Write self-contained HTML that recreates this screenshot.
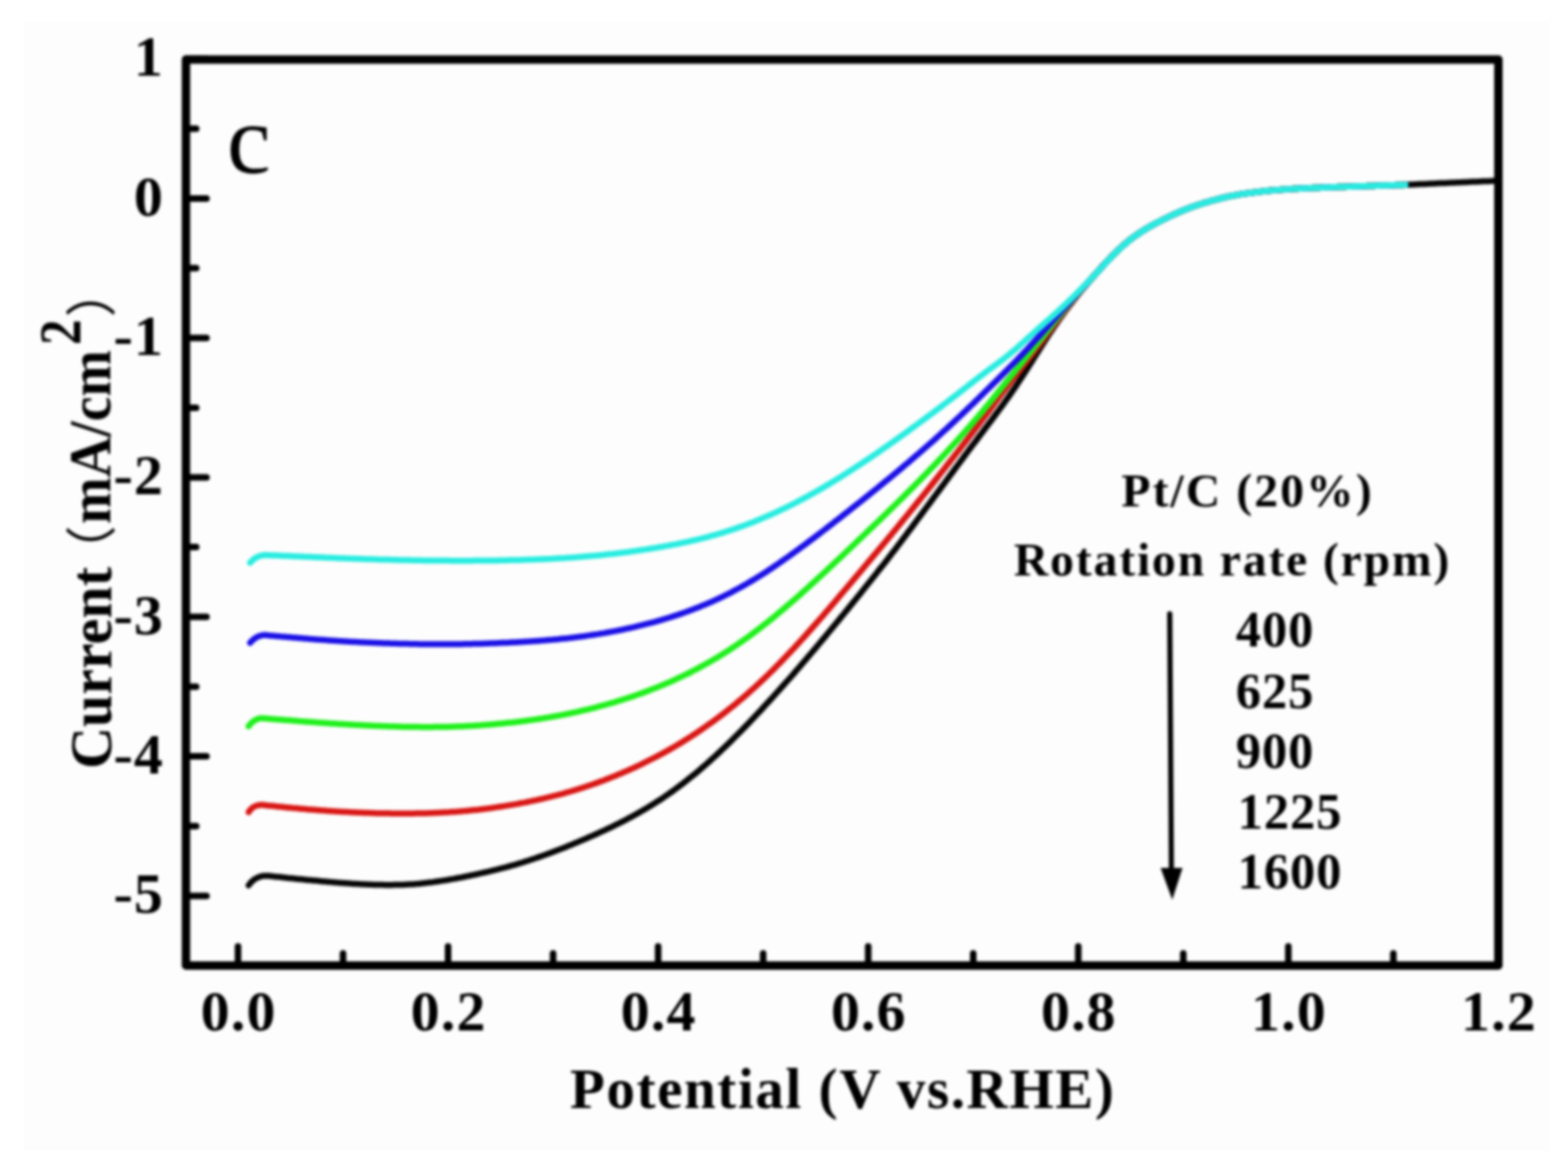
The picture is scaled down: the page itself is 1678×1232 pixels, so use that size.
<!DOCTYPE html>
<html><head><meta charset="utf-8"><title>Pt/C rotation rate LSV</title>
<style>html,body{margin:0;padding:0;background:#fff;width:1678px;height:1232px;overflow:hidden;}.bg{position:absolute;left:25px;top:23px;width:1633px;height:1209px;background:#fdfdfd;}svg{position:absolute;left:0;top:0;display:block;filter:blur(1.6px);}</style>
</head><body>
<div class="bg"></div>
<svg width="1678" height="1232" viewBox="0 0 1678 1232"><path d="M266.1 947.6L267.4 945.9 268.7 944.3 270.2 942.9 271.8 941.6 273.6 940.5 275.4 939.5 277.4 938.7 279.5 938.0 281.6 937.6 283.6 937.4 285.7 937.4 287.7 937.6 289.7 937.8 291.7 938.0 293.7 938.2 295.7 938.4 297.7 938.6 299.7 938.8 301.7 939.0 303.7 939.2 305.7 939.4 307.7 939.7 309.7 939.9 311.7 940.1 313.7 940.3 315.7 940.5 317.7 940.7 319.7 940.9 321.7 941.1 323.7 941.3 325.7 941.5 327.7 941.7 329.7 941.9 331.7 942.0 333.7 942.2 335.7 942.4 337.8 942.6 339.8 942.8 341.8 943.0 343.8 943.2 345.8 943.4 347.8 943.5 349.8 943.7 351.8 943.9 353.8 944.1 355.8 944.2 357.8 944.4 359.8 944.6 361.8 944.7 363.8 944.9 365.8 945.0 367.8 945.2 369.8 945.3 371.8 945.5 373.8 945.6 375.8 945.7 377.8 945.9 379.8 946.0 381.8 946.1 383.8 946.2 385.8 946.3 387.8 946.4 389.8 946.5 391.8 946.6 393.8 946.7 395.8 946.8 397.8 946.8 399.8 946.9 401.8 947.0 403.8 947.0 405.8 947.1 407.8 947.1 409.8 947.1 411.8 947.2 413.8 947.2 415.8 947.2 417.8 947.2 419.8 947.2 421.8 947.1 423.8 947.1 425.8 947.1 427.8 947.0 429.8 947.0 431.8 946.9 433.8 946.8 435.8 946.7 437.9 946.6 439.9 946.5 441.9 946.4 443.9 946.2 445.9 946.1 447.9 945.9 449.9 945.7 451.9 945.5 453.9 945.3 455.9 945.1 457.9 944.8 459.9 944.6 461.9 944.4 463.9 944.1 465.9 943.8 467.9 943.5 469.9 943.2 471.9 942.9 473.9 942.6 475.9 942.3 477.9 942.0 479.9 941.6 481.9 941.3 483.9 940.9 485.9 940.6 487.9 940.2 489.9 939.8 491.9 939.5 493.9 939.1 495.9 938.7 497.9 938.3 499.9 937.9 501.9 937.5 503.9 937.0 505.9 936.6 507.9 936.2 509.9 935.8 511.9 935.3 513.9 934.9 515.9 934.4 517.9 934.0 519.9 933.5 521.9 933.1 523.9 932.6 525.9 932.1 527.9 931.6 529.9 931.1 531.9 930.7 533.9 930.2 535.9 929.6 537.9 929.1 540.0 928.6 542.0 928.1 544.0 927.5 546.0 927.0 548.0 926.4 550.0 925.8 552.0 925.3 554.0 924.7 556.0 924.1 558.0 923.5 560.0 922.9 562.0 922.2 564.0 921.6 566.0 921.0 568.0 920.3 570.0 919.6 572.0 919.0 574.0 918.3 576.0 917.6 578.0 916.9 580.0 916.2 582.0 915.5 584.0 914.8 586.0 914.1 588.0 913.3 590.0 912.6 592.0 911.8 594.0 911.1 596.0 910.3 598.0 909.5 600.0 908.8 602.0 908.0 604.0 907.2 606.0 906.4 608.0 905.6 610.0 904.8 612.0 904.0 614.0 903.1 616.0 902.3 618.0 901.5 620.0 900.6 622.0 899.8 624.0 898.9 626.0 898.1 628.0 897.2 630.0 896.3 632.0 895.4 634.0 894.6 636.0 893.7 638.0 892.8 640.1 891.9 642.1 890.9 644.1 890.0 646.1 889.1 648.1 888.2 650.1 887.2 652.1 886.3 654.1 885.3 656.1 884.3 658.1 883.3 660.1 882.4 662.1 881.4 664.1 880.4 666.1 879.3 668.1 878.3 670.1 877.3 672.1 876.2 674.1 875.2 676.1 874.1 678.1 873.0 680.1 871.9 682.1 870.8 684.1 869.6 686.1 868.5 688.1 867.3 690.1 866.2 692.1 865.0 694.1 863.8 696.1 862.6 698.1 861.3 700.1 860.1 702.1 858.8 704.1 857.5 706.1 856.2 708.1 854.9 710.1 853.6 712.1 852.2 714.1 850.8 716.1 849.4 718.1 848.0 720.1 846.6 722.1 845.1 724.1 843.7 726.1 842.2 728.1 840.7 730.1 839.1 732.1 837.6 734.1 836.0 736.1 834.4 738.1 832.8 740.1 831.2 742.2 829.6 744.2 827.9 746.2 826.2 748.2 824.6 750.2 822.8 752.2 821.1 754.2 819.4 756.2 817.6 758.2 815.8 760.2 814.0 762.2 812.2 764.2 810.4 766.2 808.6 768.2 806.7 770.2 804.8 772.2 802.9 774.2 801.0 776.2 799.1 778.2 797.2 780.2 795.2 782.2 793.3 784.2 791.3 786.2 789.3 788.2 787.3 790.2 785.3 792.2 783.2 794.2 781.2 796.2 779.1 798.2 777.1 800.2 775.0 802.2 772.9 804.2 770.8 806.2 768.7 808.2 766.6 810.2 764.4 812.2 762.3 814.2 760.2 816.2 758.0 818.2 755.8 820.2 753.6 822.2 751.5 824.2 749.3 826.2 747.1 828.2 744.8 830.2 742.6 832.2 740.4 834.2 738.2 836.2 735.9 838.2 733.7 840.2 731.4 842.3 729.1 844.3 726.9 846.3 724.6 848.3 722.3 850.3 720.0 852.3 717.7 854.3 715.4 856.3 713.1 858.3 710.7 860.3 708.4 862.3 706.1 864.3 703.7 866.3 701.4 868.3 699.0 870.3 696.6 872.3 694.3 874.3 691.9 876.3 689.5 878.3 687.1 880.3 684.7 882.3 682.3 884.3 679.9 886.3 677.5 888.3 675.0 890.3 672.6 892.3 670.2 894.3 667.7 896.3 665.3 898.3 662.9 900.3 660.4 902.3 658.0 904.3 655.5 906.3 653.1 908.3 650.6 910.3 648.1 912.3 645.7 914.3 643.2 916.3 640.7 918.3 638.2 920.3 635.8 922.3 633.3 924.3 630.8 926.3 628.3 928.3 625.8 930.3 623.3 932.3 620.8 934.3 618.2 936.3 615.7 938.3 613.2 940.3 610.6 942.3 608.1 944.4 605.5 946.4 603.0 948.4 600.4 950.4 597.8 952.4 595.2 954.4 592.6 956.4 590.0 958.4 587.4 960.4 584.8 962.4 582.1 964.4 579.5 966.4 576.8 968.4 574.2 970.4 571.5 972.4 568.8 974.4 566.2 976.4 563.5 978.4 560.8 980.4 558.1 982.4 555.4 984.4 552.7 986.4 550.0 988.4 547.3 990.4 544.6 992.4 541.9 994.4 539.2 996.4 536.5 998.4 533.8 1000.4 531.1 1002.4 528.4 1004.4 525.7 1006.4 523.0 1008.4 520.3 1010.4 517.6 1012.4 514.9 1014.4 512.2 1016.4 509.4 1018.4 506.7 1020.4 504.0 1022.4 501.3 1024.4 498.6 1026.4 495.9 1028.4 493.2 1030.4 490.5 1032.4 487.8 1034.4 485.1 1036.4 482.4 1038.4 479.7 1040.4 477.1 1042.4 474.4 1044.5 471.7 1046.5 469.0 1048.5 466.3 1050.5 463.7 1052.5 461.0 1054.5 458.3 1056.5 455.7 1058.5 453.0 1060.5 450.4 1062.5 447.7 1064.5 445.0 1066.5 442.3 1068.5 439.6 1070.5 436.9 1072.5 434.2 1074.5 431.4 1076.5 428.6 1078.5 425.8 1080.5 423.0 1082.5 420.1 1084.5 417.2 1086.5 414.3 1088.5 411.3 1090.5 408.3 1092.5 405.3 1094.5 402.2 1096.5 399.1 1098.5 396.0 1100.5 392.8 1102.5 389.7 1104.5 386.5 1106.5 383.3 1108.5 380.0 1110.5 376.9 1112.5 373.7 1114.5 370.5 1116.5 367.4 1118.5 364.2 1120.5 361.2 1122.5 358.1 1124.5 355.1 1126.5 352.1 1128.5 349.2 1130.5 346.3 1132.5 343.4 1134.5 340.6 1136.5 337.8 1138.5 335.1 1140.5 332.4 1142.5 329.7 1144.6 327.0 1146.6 324.4 1148.6 321.8 1150.6 319.3 1152.6 316.8 1154.6 314.3 1156.6 311.8 1158.6 309.4 1160.6 307.0 1162.6 304.7 1164.6 302.3 1166.6 300.0 1168.6 297.7 1170.6 295.4 1172.6 293.2 1174.6 290.9 1176.6 288.7 1178.6 286.4 1180.6 284.2 1182.6 282.0 1184.6 279.9 1186.6 277.7 1188.6 275.6 1190.6 273.6 1192.6 271.5 1194.6 269.6 1196.6 267.6 1198.6 265.7 1200.6 263.9 1202.6 262.1 1204.6 260.4 1206.6 258.8 1208.6 257.2 1210.6 255.6 1212.6 254.1 1214.6 252.6 1216.6 251.2 1218.6 249.9 1220.6 248.5 1222.6 247.3 1224.6 246.0 1226.6 244.8 1228.6 243.6 1230.6 242.5 1232.6 241.4 1234.6 240.3 1236.6 239.2 1238.6 238.1 1240.6 237.1 1242.6 236.1 1244.6 235.1 1246.7 234.1 1248.7 233.1 1250.7 232.1 1252.7 231.2 1254.7 230.2 1256.7 229.3 1258.7 228.4 1260.7 227.6 1262.7 226.7 1264.7 225.8 1266.7 225.0 1268.7 224.2 1270.7 223.4 1272.7 222.7 1274.7 221.9 1276.7 221.2 1278.7 220.5 1280.7 219.8 1282.7 219.1 1284.7 218.5 1286.7 217.9 1288.7 217.2 1290.7 216.6 1292.7 216.1 1294.7 215.5 1296.7 214.9 1298.7 214.4 1300.7 213.8 1302.7 213.3 1304.7 212.8 1306.7 212.2 1308.7 211.7 1310.7 211.3 1312.7 210.8 1314.7 210.4 1316.7 209.9 1318.7 209.5 1320.7 209.2 1322.7 208.8 1324.7 208.4 1326.7 208.1 1328.7 207.8 1330.7 207.5 1332.7 207.2 1334.7 206.9 1336.7 206.6 1338.7 206.3 1340.7 206.1 1342.7 205.8 1344.7 205.6 1346.8 205.3 1348.8 205.1 1350.8 204.9 1352.8 204.6 1354.8 204.4 1356.8 204.2 1358.8 204.0 1360.8 203.8 1362.8 203.7 1364.8 203.5 1366.8 203.3 1368.8 203.2 1370.8 203.0 1372.8 202.9 1374.8 202.7 1376.8 202.6 1378.8 202.4 1380.8 202.3 1382.8 202.2 1384.8 202.1 1386.8 202.0 1388.8 201.9 1390.8 201.8 1392.8 201.7 1394.8 201.6 1396.8 201.5 1398.8 201.4 1400.8 201.3 1402.8 201.2 1404.8 201.1 1406.8 201.1 1408.8 201.0 1410.8 200.9 1412.8 200.8 1414.8 200.7 1416.8 200.7 1418.8 200.6 1420.8 200.5 1422.8 200.4 1424.8 200.4 1426.8 200.3 1428.8 200.2 1430.8 200.2 1432.8 200.1 1434.8 200.0 1436.8 200.0 1438.8 199.9 1440.8 199.8 1442.8 199.8 1444.8 199.7 1446.8 199.6 1448.9 199.6 1450.9 199.5 1452.9 199.4 1454.9 199.4 1456.9 199.3 1458.9 199.3 1460.9 199.2 1462.9 199.1 1464.9 199.1 1466.9 199.0 1468.9 198.9 1470.9 198.9 1472.9 198.8 1474.9 198.8 1476.9 198.7 1478.9 198.6 1480.9 198.6 1482.9 198.5 1484.9 198.4 1486.9 198.4 1488.9 198.3 1490.9 198.3 1492.9 198.2 1494.9 198.1 1496.9 198.0 1498.9 198.0 1500.9 197.9 1502.9 197.8 1504.9 197.7 1506.9 197.7 1508.9 197.6 1510.9 197.5 1512.9 197.4 1514.9 197.3 1516.9 197.2 1518.9 197.1 1520.9 197.0 1522.9 196.9 1524.9 196.9 1526.9 196.8 1528.9 196.7 1530.9 196.6 1532.9 196.5 1534.9 196.4 1536.9 196.3 1538.9 196.2 1540.9 196.1 1542.9 196.0 1544.9 196.0 1546.9 195.9 1549.0 195.8 1551.0 195.7 1553.0 195.6 1555.0 195.5 1557.0 195.4 1559.0 195.3 1561.0 195.3 1563.0 195.2 1565.0 195.1 1567.0 195.0 1569.0 194.9 1571.0 194.8 1573.0 194.7 1575.0 194.6 1577.0 194.6 1579.0 194.5 1581.0 194.4 1583.0 194.3 1585.0 194.2 1587.0 194.1 1589.0 194.0 1591.0 193.9 1593.0 193.9 1595.0 193.8 1597.0 193.7 1599.0 193.6" fill="none" stroke="#050505" stroke-width="6.5" stroke-linejoin="round" stroke-linecap="round"/>
<path d="M266.1 869.3L267.0 867.9 268.0 866.7 269.1 865.6 270.3 864.6 271.6 863.7 272.9 863.0 274.4 862.5 275.9 862.0 277.5 861.7 279.0 861.6 280.6 861.6 282.6 861.8 284.6 862.0 286.6 862.2 288.6 862.4 290.6 862.6 292.6 862.8 294.6 863.0 296.6 863.2 298.6 863.4 300.6 863.6 302.6 863.8 304.6 864.0 306.6 864.2 308.6 864.4 310.6 864.6 312.6 864.8 314.6 864.9 316.6 865.1 318.6 865.3 320.6 865.5 322.6 865.7 324.7 865.8 326.7 866.0 328.7 866.2 330.7 866.4 332.7 866.5 334.7 866.7 336.7 866.8 338.7 867.0 340.7 867.2 342.7 867.3 344.7 867.5 346.7 867.6 348.7 867.7 350.7 867.9 352.7 868.0 354.7 868.2 356.7 868.3 358.7 868.4 360.7 868.5 362.7 868.7 364.7 868.8 366.7 868.9 368.7 869.0 370.7 869.1 372.7 869.2 374.7 869.3 376.7 869.4 378.7 869.5 380.7 869.6 382.7 869.7 384.7 869.8 386.7 869.8 388.7 869.9 390.7 870.0 392.7 870.1 394.7 870.1 396.7 870.2 398.7 870.2 400.7 870.3 402.7 870.4 404.7 870.4 406.7 870.4 408.7 870.5 410.7 870.5 412.8 870.6 414.8 870.6 416.8 870.6 418.8 870.7 420.8 870.7 422.8 870.7 424.8 870.7 426.8 870.7 428.8 870.7 430.8 870.7 432.8 870.7 434.8 870.7 436.8 870.7 438.8 870.7 440.8 870.7 442.8 870.7 444.8 870.6 446.8 870.6 448.8 870.6 450.8 870.5 452.8 870.5 454.8 870.4 456.8 870.4 458.8 870.3 460.8 870.2 462.8 870.2 464.8 870.1 466.8 870.0 468.8 869.9 470.8 869.8 472.8 869.7 474.8 869.6 476.8 869.5 478.8 869.4 480.8 869.3 482.8 869.1 484.8 869.0 486.8 868.9 488.8 868.7 490.8 868.6 492.8 868.4 494.8 868.2 496.8 868.1 498.8 867.9 500.9 867.7 502.9 867.5 504.9 867.3 506.9 867.1 508.9 866.9 510.9 866.7 512.9 866.5 514.9 866.2 516.9 866.0 518.9 865.7 520.9 865.5 522.9 865.2 524.9 865.0 526.9 864.7 528.9 864.4 530.9 864.1 532.9 863.8 534.9 863.5 536.9 863.2 538.9 862.9 540.9 862.6 542.9 862.3 544.9 861.9 546.9 861.6 548.9 861.3 550.9 860.9 552.9 860.6 554.9 860.2 556.9 859.8 558.9 859.4 560.9 859.1 562.9 858.7 564.9 858.3 566.9 857.9 568.9 857.4 570.9 857.0 572.9 856.6 574.9 856.2 576.9 855.7 578.9 855.3 580.9 854.8 582.9 854.3 584.9 853.9 587.0 853.4 589.0 852.9 591.0 852.4 593.0 851.9 595.0 851.4 597.0 850.9 599.0 850.3 601.0 849.8 603.0 849.3 605.0 848.7 607.0 848.1 609.0 847.6 611.0 847.0 613.0 846.4 615.0 845.8 617.0 845.2 619.0 844.6 621.0 843.9 623.0 843.3 625.0 842.7 627.0 842.0 629.0 841.3 631.0 840.7 633.0 840.0 635.0 839.3 637.0 838.6 639.0 837.9 641.0 837.1 643.0 836.4 645.0 835.7 647.0 834.9 649.0 834.1 651.0 833.4 653.0 832.6 655.0 831.8 657.0 831.0 659.0 830.2 661.0 829.3 663.0 828.5 665.0 827.7 667.0 826.8 669.0 825.9 671.0 825.1 673.0 824.2 675.1 823.3 677.1 822.4 679.1 821.5 681.1 820.5 683.1 819.6 685.1 818.6 687.1 817.7 689.1 816.7 691.1 815.7 693.1 814.7 695.1 813.7 697.1 812.7 699.1 811.7 701.1 810.7 703.1 809.6 705.1 808.5 707.1 807.5 709.1 806.4 711.1 805.3 713.1 804.2 715.1 803.1 717.1 801.9 719.1 800.8 721.1 799.6 723.1 798.5 725.1 797.3 727.1 796.1 729.1 794.9 731.1 793.6 733.1 792.4 735.1 791.1 737.1 789.9 739.1 788.6 741.1 787.3 743.1 786.0 745.1 784.7 747.1 783.3 749.1 782.0 751.1 780.6 753.1 779.2 755.1 777.8 757.1 776.4 759.1 775.0 761.1 773.6 763.2 772.1 765.2 770.6 767.2 769.2 769.2 767.7 771.2 766.1 773.2 764.6 775.2 763.1 777.2 761.5 779.2 759.9 781.2 758.3 783.2 756.7 785.2 755.1 787.2 753.5 789.2 751.8 791.2 750.1 793.2 748.4 795.2 746.7 797.2 745.0 799.2 743.3 801.2 741.5 803.2 739.7 805.2 737.9 807.2 736.1 809.2 734.3 811.2 732.4 813.2 730.6 815.2 728.7 817.2 726.8 819.2 724.9 821.2 723.0 823.2 721.0 825.2 719.0 827.2 717.1 829.2 715.1 831.2 713.0 833.2 711.0 835.2 708.9 837.2 706.9 839.2 704.8 841.2 702.7 843.2 700.6 845.2 698.5 847.2 696.3 849.3 694.2 851.3 692.0 853.3 689.8 855.3 687.6 857.3 685.4 859.3 683.2 861.3 681.0 863.3 678.8 865.3 676.5 867.3 674.3 869.3 672.0 871.3 669.7 873.3 667.5 875.3 665.2 877.3 662.9 879.3 660.6 881.3 658.3 883.3 655.9 885.3 653.6 887.3 651.3 889.3 649.0 891.3 646.6 893.3 644.3 895.3 641.9 897.3 639.6 899.3 637.2 901.3 634.9 903.3 632.5 905.3 630.2 907.3 627.8 909.3 625.4 911.3 623.1 913.3 620.7 915.3 618.3 917.3 615.9 919.3 613.6 921.3 611.2 923.3 608.8 925.3 606.4 927.3 604.0 929.3 601.6 931.3 599.2 933.3 596.8 935.3 594.4 937.4 592.0 939.4 589.6 941.4 587.2 943.4 584.8 945.4 582.4 947.4 580.0 949.4 577.6 951.4 575.2 953.4 572.8 955.4 570.3 957.4 567.9 959.4 565.5 961.4 563.0 963.4 560.6 965.4 558.1 967.4 555.7 969.4 553.2 971.4 550.8 973.4 548.3 975.4 545.9 977.4 543.4 979.4 540.9 981.4 538.4 983.4 535.9 985.4 533.5 987.4 531.0 989.4 528.5 991.4 526.0 993.4 523.5 995.4 520.9 997.4 518.4 999.4 515.9 1001.4 513.4 1003.4 510.9 1005.4 508.3 1007.4 505.8 1009.4 503.2 1011.4 500.7 1013.4 498.1 1015.4 495.6 1017.4 493.0 1019.4 490.5 1021.4 487.9 1023.5 485.3 1025.5 482.8 1027.5 480.2 1029.5 477.6 1031.5 475.0 1033.5 472.4 1035.5 469.8 1037.5 467.2 1039.5 464.7 1041.5 462.1 1043.5 459.4 1045.5 456.8 1047.5 454.2 1049.5 451.6 1051.5 449.0 1053.5 446.3 1055.5 443.7 1057.5 441.0 1059.5 438.3 1061.5 435.7 1063.5 433.0 1065.5 430.3 1067.5 427.6 1069.5 424.9 1071.5 422.2 1073.5 419.5 1075.5 416.9 1077.5 414.2 1079.5 411.5 1081.5 408.9 1083.5 406.3 1085.5 403.7 1087.5 401.1 1089.5 398.5 1091.5 395.9 1093.5 393.4 1095.5 390.8 1097.5 388.3 1099.5 385.7 1101.5 383.1 1103.5 380.5 1105.5 377.9 1107.5 375.3 1109.5 372.6 1111.6 369.9 1113.6 367.2 1115.6 364.5 1117.6 361.8 1119.6 359.1 1121.6 356.4 1123.6 353.7 1125.6 351.0 1127.6 348.3 1129.6 345.7 1131.6 343.0 1133.6 340.4 1135.6 337.8 1137.6 335.1 1139.6 332.6 1141.6 330.0 1143.6 327.4 1145.6 324.9 1147.6 322.4 1149.6 319.9 1151.6 317.4 1153.6 315.0 1155.6 312.6 1157.6 310.2 1159.6 307.9 1161.6 305.5 1163.6 303.2 1165.6 300.9 1167.6 298.7 1169.6 296.4 1171.6 294.2 1173.6 291.9 1175.6 289.7 1177.6 287.5 1179.6 285.3 1181.6 283.1 1183.6 280.9 1185.6 278.8 1187.6 276.7 1189.6 274.6 1191.6 272.5 1193.6 270.5 1195.6 268.6 1197.6 266.7 1199.7 264.8 1201.7 263.0 1203.7 261.3 1205.7 259.6 1207.7 257.9 1209.7 256.4 1211.7 254.8 1213.7 253.3 1215.7 251.9 1217.7 250.5 1219.7 249.2 1221.7 247.9 1223.7 246.6 1225.7 245.4 1227.7 244.2 1229.7 243.0 1231.7 241.9 1233.7 240.8 1235.7 239.7 1237.7 238.6 1239.7 237.6 1241.7 236.5 1243.7 235.5 1245.7 234.5 1247.7 233.5 1249.7 232.6 1251.7 231.6 1253.7 230.7 1255.7 229.8 1257.7 228.9 1259.7 228.0 1261.7 227.1 1263.7 226.2 1265.7 225.4 1267.7 224.6 1269.7 223.8 1271.7 223.0 1273.7 222.3 1275.7 221.5 1277.7 220.8 1279.7 220.1 1281.7 219.4 1283.7 218.8 1285.8 218.2 1287.8 217.5 1289.8 216.9 1291.8 216.3 1293.8 215.8 1295.8 215.2 1297.8 214.6 1299.8 214.1 1301.8 213.5 1303.8 213.0 1305.8 212.5 1307.8 212.0 1309.8 211.5 1311.8 211.0 1313.8 210.6 1315.8 210.1 1317.8 209.7 1319.8 209.3 1321.8 209.0 1323.8 208.6 1325.8 208.3 1327.8 207.9 1329.8 207.6 1331.8 207.3 1333.8 207.0 1335.8 206.7 1337.8 206.4 1339.8 206.2 1341.8 205.9 1343.8 205.7 1345.8 205.4 1347.8 205.2 1349.8 205.0 1351.8 204.7 1353.8 204.5 1355.8 204.3 1357.8 204.1 1359.8 203.9 1361.8 203.7 1363.8 203.6 1365.8 203.4 1367.8 203.2 1369.8 203.1 1371.8 202.9 1373.9 202.8 1375.9 202.6 1377.9 202.5 1379.9 202.4 1381.9 202.3 1383.9 202.1 1385.9 202.0 1387.9 201.9 1389.9 201.8 1391.9 201.7 1393.9 201.6 1395.9 201.5 1397.9 201.4 1399.9 201.4 1401.9 201.3 1403.9 201.2 1405.9 201.1 1407.9 201.0 1409.9 200.9 1411.9 200.9 1413.9 200.8 1415.9 200.7 1417.9 200.6 1419.9 200.6 1421.9 200.5 1423.9 200.4 1425.9 200.3 1427.9 200.3 1429.9 200.2 1431.9 200.1 1433.9 200.1 1435.9 200.0 1437.9 199.9 1439.9 199.9 1441.9 199.8 1443.9 199.7 1445.9 199.7 1447.9 199.6 1449.9 199.5 1451.9 199.5 1453.9 199.4 1455.9 199.3 1457.9 199.3 1459.9 199.2 1462.0 199.2 1464.0 199.1 1466.0 199.0 1468.0 199.0 1470.0 198.9 1472.0 198.8 1474.0 198.8 1476.0 198.7 1478.0 198.6 1480.0 198.6 1482.0 198.5 1484.0 198.4 1486.0 198.4 1488.0 198.3 1490.0 198.3 1492.0 198.2 1494.0 198.1 1496.0 198.1 1498.0 198.0 1500.0 197.9 1502.0 197.9 1504.0 197.8" fill="none" stroke="#d81614" stroke-width="6.5" stroke-linejoin="round" stroke-linecap="round"/>
<path d="M266.1 777.3L267.1 776.0 268.1 774.8 269.2 773.7 270.4 772.6 271.7 771.7 273.0 770.9 274.4 770.2 275.9 769.5 277.5 769.0 279.0 768.8 280.6 768.7 282.6 768.9 284.6 769.0 286.6 769.2 288.6 769.4 290.6 769.5 292.6 769.7 294.6 769.9 296.6 770.0 298.6 770.2 300.6 770.3 302.6 770.5 304.6 770.7 306.6 770.8 308.6 771.0 310.6 771.1 312.6 771.3 314.6 771.5 316.6 771.6 318.6 771.8 320.6 771.9 322.6 772.1 324.7 772.2 326.7 772.4 328.7 772.5 330.7 772.7 332.7 772.8 334.7 773.0 336.7 773.1 338.7 773.3 340.7 773.4 342.7 773.5 344.7 773.7 346.7 773.8 348.7 774.0 350.7 774.1 352.7 774.2 354.7 774.4 356.7 774.5 358.7 774.6 360.7 774.7 362.7 774.9 364.7 775.0 366.7 775.1 368.7 775.2 370.7 775.3 372.7 775.5 374.7 775.6 376.7 775.7 378.7 775.8 380.7 775.9 382.7 776.0 384.7 776.1 386.7 776.2 388.7 776.3 390.7 776.4 392.7 776.5 394.7 776.6 396.7 776.7 398.7 776.8 400.7 776.9 402.7 776.9 404.7 777.0 406.7 777.1 408.7 777.2 410.7 777.2 412.8 777.3 414.8 777.4 416.8 777.5 418.8 777.5 420.8 777.6 422.8 777.6 424.8 777.7 426.8 777.8 428.8 777.8 430.8 777.9 432.8 777.9 434.8 777.9 436.8 778.0 438.8 778.0 440.8 778.0 442.8 778.1 444.8 778.1 446.8 778.1 448.8 778.1 450.8 778.2 452.8 778.2 454.8 778.2 456.8 778.2 458.8 778.2 460.8 778.2 462.8 778.2 464.8 778.1 466.8 778.1 468.8 778.1 470.8 778.1 472.8 778.0 474.8 778.0 476.8 778.0 478.8 777.9 480.8 777.9 482.8 777.8 484.8 777.8 486.8 777.7 488.8 777.6 490.8 777.5 492.8 777.5 494.8 777.4 496.8 777.3 498.8 777.2 500.9 777.1 502.9 777.0 504.9 776.9 506.9 776.8 508.9 776.7 510.9 776.5 512.9 776.4 514.9 776.3 516.9 776.1 518.9 776.0 520.9 775.8 522.9 775.7 524.9 775.5 526.9 775.3 528.9 775.2 530.9 775.0 532.9 774.8 534.9 774.6 536.9 774.4 538.9 774.2 540.9 774.0 542.9 773.8 544.9 773.6 546.9 773.4 548.9 773.2 550.9 772.9 552.9 772.7 554.9 772.5 556.9 772.2 558.9 772.0 560.9 771.7 562.9 771.5 564.9 771.2 566.9 770.9 568.9 770.6 570.9 770.4 572.9 770.1 574.9 769.8 576.9 769.5 578.9 769.2 580.9 768.9 582.9 768.5 584.9 768.2 587.0 767.9 589.0 767.5 591.0 767.2 593.0 766.8 595.0 766.5 597.0 766.1 599.0 765.7 601.0 765.4 603.0 765.0 605.0 764.6 607.0 764.2 609.0 763.8 611.0 763.4 613.0 762.9 615.0 762.5 617.0 762.1 619.0 761.6 621.0 761.2 623.0 760.7 625.0 760.2 627.0 759.8 629.0 759.3 631.0 758.8 633.0 758.3 635.0 757.8 637.0 757.3 639.0 756.8 641.0 756.2 643.0 755.7 645.0 755.2 647.0 754.6 649.0 754.1 651.0 753.5 653.0 752.9 655.0 752.3 657.0 751.8 659.0 751.2 661.0 750.5 663.0 749.9 665.0 749.3 667.0 748.7 669.0 748.0 671.0 747.4 673.0 746.7 675.1 746.1 677.1 745.4 679.1 744.7 681.1 744.0 683.1 743.3 685.1 742.6 687.1 741.9 689.1 741.1 691.1 740.4 693.1 739.6 695.1 738.9 697.1 738.1 699.1 737.3 701.1 736.5 703.1 735.7 705.1 734.9 707.1 734.1 709.1 733.3 711.1 732.4 713.1 731.6 715.1 730.7 717.1 729.9 719.1 729.0 721.1 728.1 723.1 727.2 725.1 726.2 727.1 725.3 729.1 724.4 731.1 723.4 733.1 722.4 735.1 721.5 737.1 720.5 739.1 719.5 741.1 718.4 743.1 717.4 745.1 716.4 747.1 715.3 749.1 714.2 751.1 713.1 753.1 712.0 755.1 710.9 757.1 709.8 759.1 708.7 761.1 707.5 763.2 706.3 765.2 705.2 767.2 704.0 769.2 702.7 771.2 701.5 773.2 700.3 775.2 699.0 777.2 697.7 779.2 696.5 781.2 695.2 783.2 693.8 785.2 692.5 787.2 691.2 789.2 689.8 791.2 688.4 793.2 687.0 795.2 685.6 797.2 684.2 799.2 682.8 801.2 681.3 803.2 679.9 805.2 678.4 807.2 676.9 809.2 675.4 811.2 673.9 813.2 672.3 815.2 670.8 817.2 669.2 819.2 667.7 821.2 666.1 823.2 664.5 825.2 662.9 827.2 661.2 829.2 659.6 831.2 657.9 833.2 656.3 835.2 654.6 837.2 652.9 839.2 651.2 841.2 649.5 843.2 647.8 845.2 646.1 847.2 644.3 849.3 642.6 851.3 640.8 853.3 639.1 855.3 637.3 857.3 635.5 859.3 633.7 861.3 631.9 863.3 630.1 865.3 628.3 867.3 626.5 869.3 624.7 871.3 622.8 873.3 621.0 875.3 619.2 877.3 617.3 879.3 615.5 881.3 613.6 883.3 611.8 885.3 609.9 887.3 608.0 889.3 606.2 891.3 604.3 893.3 602.4 895.3 600.5 897.3 598.6 899.3 596.8 901.3 594.9 903.3 593.0 905.3 591.1 907.3 589.2 909.3 587.3 911.3 585.4 913.3 583.5 915.3 581.5 917.3 579.6 919.3 577.7 921.3 575.8 923.3 573.9 925.3 572.0 927.3 570.1 929.3 568.1 931.3 566.2 933.3 564.3 935.3 562.4 937.4 560.4 939.4 558.5 941.4 556.6 943.4 554.6 945.4 552.7 947.4 550.7 949.4 548.8 951.4 546.8 953.4 544.9 955.4 542.9 957.4 541.0 959.4 539.0 961.4 537.0 963.4 535.1 965.4 533.1 967.4 531.1 969.4 529.1 971.4 527.1 973.4 525.1 975.4 523.1 977.4 521.1 979.4 519.1 981.4 517.0 983.4 515.0 985.4 512.9 987.4 510.9 989.4 508.8 991.4 506.8 993.4 504.7 995.4 502.6 997.4 500.5 999.4 498.4 1001.4 496.3 1003.4 494.2 1005.4 492.0 1007.4 489.9 1009.4 487.8 1011.4 485.6 1013.4 483.4 1015.4 481.2 1017.4 479.1 1019.4 476.9 1021.4 474.7 1023.5 472.4 1025.5 470.2 1027.5 468.0 1029.5 465.7 1031.5 463.5 1033.5 461.2 1035.5 458.9 1037.5 456.6 1039.5 454.3 1041.5 452.0 1043.5 449.7 1045.5 447.4 1047.5 445.0 1049.5 442.6 1051.5 440.3 1053.5 437.8 1055.5 435.4 1057.5 433.0 1059.5 430.5 1061.5 428.0 1063.5 425.6 1065.5 423.1 1067.5 420.6 1069.5 418.1 1071.5 415.6 1073.5 413.1 1075.5 410.6 1077.5 408.1 1079.5 405.6 1081.5 403.2 1083.5 400.7 1085.5 398.3 1087.5 395.8 1089.5 393.4 1091.5 390.9 1093.5 388.4 1095.5 386.0 1097.5 383.5 1099.5 381.0 1101.5 378.5 1103.5 376.0 1105.5 373.5 1107.5 371.0 1109.5 368.4 1111.6 365.8 1113.6 363.3 1115.6 360.7 1117.6 358.2 1119.6 355.6 1121.6 353.1 1123.6 350.6 1125.6 348.0 1127.6 345.5 1129.6 343.0 1131.6 340.5 1133.6 338.1 1135.6 335.6 1137.6 333.2 1139.6 330.7 1141.6 328.3 1143.6 325.9 1145.6 323.5 1147.6 321.1 1149.6 318.8 1151.6 316.4 1153.6 314.1 1155.6 311.8 1157.6 309.6 1159.6 307.3 1161.6 305.1 1163.6 302.9 1165.6 300.7 1167.6 298.5 1169.6 296.3 1171.6 294.1 1173.6 291.9 1175.6 289.7 1177.6 287.5 1179.6 285.3 1181.6 283.1 1183.6 281.0 1185.6 278.8 1187.6 276.7 1189.6 274.6 1191.6 272.6 1193.6 270.6 1195.6 268.6 1197.6 266.7 1199.7 264.8 1201.7 263.0 1203.7 261.3 1205.7 259.6 1207.7 258.0 1209.7 256.4 1211.7 254.8 1213.7 253.3 1215.7 251.9 1217.7 250.5 1219.7 249.2 1221.7 247.9 1223.7 246.6 1225.7 245.4 1227.7 244.2 1229.7 243.0 1231.7 241.9 1233.7 240.8 1235.7 239.7 1237.7 238.6 1239.7 237.6 1241.7 236.5 1243.7 235.5 1245.7 234.5 1247.7 233.5 1249.7 232.6 1251.7 231.6 1253.7 230.7 1255.7 229.8 1257.7 228.9 1259.7 228.0 1261.7 227.1 1263.7 226.2 1265.7 225.4 1267.7 224.6 1269.7 223.8 1271.7 223.0 1273.7 222.3 1275.7 221.5 1277.7 220.8 1279.7 220.1 1281.7 219.4 1283.7 218.8 1285.8 218.2 1287.8 217.5 1289.8 216.9 1291.8 216.3 1293.8 215.8 1295.8 215.2 1297.8 214.6 1299.8 214.1 1301.8 213.5 1303.8 213.0 1305.8 212.5 1307.8 212.0 1309.8 211.5 1311.8 211.0 1313.8 210.6 1315.8 210.1 1317.8 209.7 1319.8 209.3 1321.8 209.0 1323.8 208.6 1325.8 208.3 1327.8 207.9 1329.8 207.6 1331.8 207.3 1333.8 207.0 1335.8 206.7 1337.8 206.4 1339.8 206.2 1341.8 205.9 1343.8 205.7 1345.8 205.4 1347.8 205.2 1349.8 205.0 1351.8 204.7 1353.8 204.5 1355.8 204.3 1357.8 204.1 1359.8 203.9 1361.8 203.7 1363.8 203.6 1365.8 203.4 1367.8 203.2 1369.8 203.1 1371.8 202.9 1373.9 202.8 1375.9 202.6 1377.9 202.5 1379.9 202.4 1381.9 202.3 1383.9 202.1 1385.9 202.0 1387.9 201.9 1389.9 201.8 1391.9 201.7 1393.9 201.6 1395.9 201.5 1397.9 201.4 1399.9 201.4 1401.9 201.3 1403.9 201.2 1405.9 201.1 1407.9 201.0 1409.9 200.9 1411.9 200.9 1413.9 200.8 1415.9 200.7 1417.9 200.6 1419.9 200.6 1421.9 200.5 1423.9 200.4 1425.9 200.3 1427.9 200.3 1429.9 200.2 1431.9 200.1 1433.9 200.1 1435.9 200.0 1437.9 199.9 1439.9 199.9 1441.9 199.8 1443.9 199.7 1445.9 199.7 1447.9 199.6 1449.9 199.5 1451.9 199.5 1453.9 199.4 1455.9 199.3 1457.9 199.3 1459.9 199.2 1462.0 199.2 1464.0 199.1 1466.0 199.0 1468.0 199.0 1470.0 198.9 1472.0 198.8 1474.0 198.8 1476.0 198.7 1478.0 198.6 1480.0 198.6 1482.0 198.5 1484.0 198.4 1486.0 198.4 1488.0 198.3 1490.0 198.3 1492.0 198.2 1494.0 198.1 1496.0 198.1 1498.0 198.0 1500.0 197.9 1502.0 197.9 1504.0 197.8" fill="none" stroke="#1ef01a" stroke-width="6.5" stroke-linejoin="round" stroke-linecap="round"/>
<path d="M267.7 688.1L268.8 686.7 270.1 685.5 271.4 684.3 272.7 683.3 274.2 682.4 275.7 681.6 277.3 680.9 279.0 680.4 280.7 680.0 282.5 679.8 284.2 679.8 286.2 680.0 288.2 680.2 290.2 680.4 292.2 680.5 294.2 680.7 296.2 680.9 298.2 681.1 300.2 681.3 302.2 681.4 304.2 681.6 306.2 681.8 308.2 682.0 310.2 682.1 312.2 682.3 314.2 682.5 316.2 682.6 318.3 682.8 320.3 683.0 322.3 683.1 324.3 683.3 326.3 683.5 328.3 683.6 330.3 683.8 332.3 683.9 334.3 684.1 336.3 684.2 338.3 684.4 340.3 684.6 342.3 684.7 344.3 684.8 346.3 685.0 348.3 685.1 350.3 685.3 352.3 685.4 354.3 685.5 356.3 685.7 358.3 685.8 360.3 685.9 362.3 686.1 364.3 686.2 366.3 686.3 368.3 686.4 370.3 686.5 372.3 686.7 374.3 686.8 376.3 686.9 378.3 687.0 380.3 687.1 382.3 687.2 384.3 687.3 386.4 687.4 388.4 687.5 390.4 687.6 392.4 687.7 394.4 687.8 396.4 687.8 398.4 687.9 400.4 688.0 402.4 688.1 404.4 688.2 406.4 688.2 408.4 688.3 410.4 688.4 412.4 688.5 414.4 688.5 416.4 688.6 418.4 688.7 420.4 688.7 422.4 688.8 424.4 688.8 426.4 688.9 428.4 688.9 430.4 689.0 432.4 689.0 434.4 689.1 436.4 689.1 438.4 689.2 440.4 689.2 442.4 689.3 444.4 689.3 446.4 689.3 448.4 689.4 450.4 689.4 452.4 689.4 454.5 689.4 456.5 689.5 458.5 689.5 460.5 689.5 462.5 689.5 464.5 689.5 466.5 689.5 468.5 689.5 470.5 689.5 472.5 689.5 474.5 689.5 476.5 689.5 478.5 689.5 480.5 689.5 482.5 689.5 484.5 689.5 486.5 689.5 488.5 689.4 490.5 689.4 492.5 689.4 494.5 689.4 496.5 689.3 498.5 689.3 500.5 689.3 502.5 689.2 504.5 689.2 506.5 689.1 508.5 689.1 510.5 689.0 512.5 689.0 514.5 688.9 516.5 688.9 518.5 688.8 520.5 688.7 522.6 688.7 524.6 688.6 526.6 688.5 528.6 688.5 530.6 688.4 532.6 688.3 534.6 688.2 536.6 688.1 538.6 688.1 540.6 688.0 542.6 687.9 544.6 687.8 546.6 687.7 548.6 687.6 550.6 687.5 552.6 687.4 554.6 687.3 556.6 687.2 558.6 687.0 560.6 686.9 562.6 686.8 564.6 686.7 566.6 686.6 568.6 686.4 570.6 686.3 572.6 686.2 574.6 686.0 576.6 685.9 578.6 685.7 580.6 685.6 582.6 685.4 584.6 685.3 586.6 685.1 588.6 684.9 590.7 684.8 592.7 684.6 594.7 684.4 596.7 684.2 598.7 684.0 600.7 683.8 602.7 683.6 604.7 683.4 606.7 683.2 608.7 683.0 610.7 682.7 612.7 682.5 614.7 682.3 616.7 682.0 618.7 681.8 620.7 681.5 622.7 681.2 624.7 681.0 626.7 680.7 628.7 680.4 630.7 680.1 632.7 679.8 634.7 679.5 636.7 679.2 638.7 678.9 640.7 678.6 642.7 678.2 644.7 677.9 646.7 677.6 648.7 677.2 650.7 676.8 652.7 676.5 654.7 676.1 656.7 675.7 658.8 675.4 660.8 675.0 662.8 674.6 664.8 674.2 666.8 673.8 668.8 673.3 670.8 672.9 672.8 672.5 674.8 672.0 676.8 671.6 678.8 671.1 680.8 670.7 682.8 670.2 684.8 669.7 686.8 669.2 688.8 668.7 690.8 668.2 692.8 667.7 694.8 667.2 696.8 666.7 698.8 666.1 700.8 665.6 702.8 665.0 704.8 664.5 706.8 663.9 708.8 663.3 710.8 662.7 712.8 662.1 714.8 661.5 716.8 660.9 718.8 660.2 720.8 659.6 722.8 658.9 724.9 658.3 726.9 657.6 728.9 656.9 730.9 656.2 732.9 655.5 734.9 654.8 736.9 654.1 738.9 653.3 740.9 652.6 742.9 651.8 744.9 651.0 746.9 650.2 748.9 649.4 750.9 648.6 752.9 647.8 754.9 647.0 756.9 646.1 758.9 645.2 760.9 644.4 762.9 643.5 764.9 642.6 766.9 641.6 768.9 640.7 770.9 639.8 772.9 638.8 774.9 637.8 776.9 636.8 778.9 635.8 780.9 634.8 782.9 633.8 784.9 632.7 786.9 631.6 788.9 630.6 790.9 629.5 793.0 628.4 795.0 627.2 797.0 626.1 799.0 625.0 801.0 623.8 803.0 622.6 805.0 621.4 807.0 620.2 809.0 619.0 811.0 617.7 813.0 616.5 815.0 615.2 817.0 614.0 819.0 612.7 821.0 611.4 823.0 610.0 825.0 608.7 827.0 607.4 829.0 606.0 831.0 604.7 833.0 603.3 835.0 601.9 837.0 600.5 839.0 599.1 841.0 597.7 843.0 596.3 845.0 594.9 847.0 593.4 849.0 592.0 851.0 590.5 853.0 589.1 855.0 587.6 857.0 586.1 859.0 584.6 861.1 583.2 863.1 581.7 865.1 580.2 867.1 578.7 869.1 577.2 871.1 575.6 873.1 574.1 875.1 572.6 877.1 571.1 879.1 569.5 881.1 568.0 883.1 566.5 885.1 564.9 887.1 563.4 889.1 561.8 891.1 560.3 893.1 558.7 895.1 557.2 897.1 555.6 899.1 554.1 901.1 552.5 903.1 550.9 905.1 549.3 907.1 547.8 909.1 546.2 911.1 544.6 913.1 543.0 915.1 541.4 917.1 539.9 919.1 538.3 921.1 536.7 923.1 535.1 925.1 533.5 927.1 531.9 929.2 530.3 931.2 528.6 933.2 527.0 935.2 525.4 937.2 523.8 939.2 522.2 941.2 520.5 943.2 518.9 945.2 517.3 947.2 515.6 949.2 514.0 951.2 512.4 953.2 510.7 955.2 509.1 957.2 507.4 959.2 505.7 961.2 504.1 963.2 502.4 965.2 500.7 967.2 499.0 969.2 497.3 971.2 495.7 973.2 494.0 975.2 492.2 977.2 490.5 979.2 488.8 981.2 487.1 983.2 485.4 985.2 483.6 987.2 481.9 989.2 480.1 991.2 478.4 993.2 476.6 995.2 474.8 997.3 473.1 999.3 471.3 1001.3 469.5 1003.3 467.7 1005.3 465.9 1007.3 464.0 1009.3 462.2 1011.3 460.4 1013.3 458.6 1015.3 456.7 1017.3 454.8 1019.3 453.0 1021.3 451.1 1023.3 449.2 1025.3 447.4 1027.3 445.5 1029.3 443.6 1031.3 441.7 1033.3 439.8 1035.3 437.8 1037.3 435.9 1039.3 434.0 1041.3 432.1 1043.3 430.1 1045.3 428.2 1047.3 426.2 1049.3 424.2 1051.3 422.3 1053.3 420.3 1055.3 418.3 1057.3 416.3 1059.3 414.4 1061.3 412.4 1063.3 410.4 1065.4 408.4 1067.4 406.4 1069.4 404.4 1071.4 402.4 1073.4 400.4 1075.4 398.4 1077.4 396.4 1079.4 394.3 1081.4 392.3 1083.4 390.3 1085.4 388.3 1087.4 386.3 1089.4 384.2 1091.4 382.1 1093.4 380.1 1095.4 378.0 1097.4 375.8 1099.4 373.7 1101.4 371.5 1103.4 369.3 1105.4 367.1 1107.4 364.9 1109.4 362.7 1111.4 360.5 1113.4 358.3 1115.4 356.0 1117.4 353.8 1119.4 351.5 1121.4 349.3 1123.4 347.1 1125.4 344.8 1127.4 342.6 1129.4 340.3 1131.5 338.1 1133.5 335.9 1135.5 333.6 1137.5 331.4 1139.5 329.2 1141.5 327.0 1143.5 324.8 1145.5 322.6 1147.5 320.4 1149.5 318.2 1151.5 316.0 1153.5 313.8 1155.5 311.6 1157.5 309.5 1159.5 307.3 1161.5 305.2 1163.5 303.0 1165.5 300.8 1167.5 298.7 1169.5 296.5 1171.5 294.3 1173.5 292.1 1175.5 289.9 1177.5 287.7 1179.5 285.5 1181.5 283.3 1183.5 281.2 1185.5 279.0 1187.5 276.9 1189.5 274.8 1191.5 272.7 1193.5 270.7 1195.5 268.7 1197.5 266.8 1199.6 265.0 1201.6 263.1 1203.6 261.4 1205.6 259.7 1207.6 258.0 1209.6 256.4 1211.6 254.9 1213.6 253.4 1215.6 252.0 1217.6 250.6 1219.6 249.2 1221.6 247.9 1223.6 246.7 1225.6 245.4 1227.6 244.2 1229.6 243.1 1231.6 241.9 1233.6 240.8 1235.6 239.7 1237.6 238.7 1239.6 237.6 1241.6 236.6 1243.6 235.6 1245.6 234.6 1247.6 233.6 1249.6 232.6 1251.6 231.7 1253.6 230.7 1255.6 229.8 1257.6 228.9 1259.6 228.0 1261.6 227.1 1263.6 226.3 1265.6 225.4 1267.7 224.6 1269.7 223.8 1271.7 223.1 1273.7 222.3 1275.7 221.6 1277.7 220.8 1279.7 220.1 1281.7 219.5 1283.7 218.8 1285.7 218.2 1287.7 217.6 1289.7 216.9 1291.7 216.4 1293.7 215.8 1295.7 215.2 1297.7 214.6 1299.7 214.1 1301.7 213.6 1303.7 213.0 1305.7 212.5 1307.7 212.0 1309.7 211.5 1311.7 211.0 1313.7 210.6 1315.7 210.1 1317.7 209.7 1319.7 209.3 1321.7 209.0 1323.7 208.6 1325.7 208.3 1327.7 207.9 1329.7 207.6 1331.7 207.3 1333.7 207.0 1335.8 206.7 1337.8 206.5 1339.8 206.2 1341.8 205.9 1343.8 205.7 1345.8 205.4 1347.8 205.2 1349.8 205.0 1351.8 204.8 1353.8 204.5 1355.8 204.3 1357.8 204.1 1359.8 203.9 1361.8 203.8 1363.8 203.6 1365.8 203.4 1367.8 203.2 1369.8 203.1 1371.8 202.9 1373.8 202.8 1375.8 202.6 1377.8 202.5 1379.8 202.4 1381.8 202.3 1383.8 202.1 1385.8 202.0 1387.8 201.9 1389.8 201.8 1391.8 201.7 1393.8 201.6 1395.8 201.5 1397.8 201.4 1399.8 201.4 1401.8 201.3 1403.9 201.2 1405.9 201.1 1407.9 201.0 1409.9 200.9 1411.9 200.9 1413.9 200.8 1415.9 200.7 1417.9 200.6 1419.9 200.6 1421.9 200.5 1423.9 200.4 1425.9 200.3 1427.9 200.3 1429.9 200.2 1431.9 200.1 1433.9 200.1 1435.9 200.0 1437.9 199.9 1439.9 199.9 1441.9 199.8 1443.9 199.7 1445.9 199.7 1447.9 199.6 1449.9 199.5 1451.9 199.5 1453.9 199.4 1455.9 199.3 1457.9 199.3 1459.9 199.2 1461.9 199.2 1463.9 199.1 1465.9 199.0 1467.9 199.0 1469.9 198.9 1472.0 198.8 1474.0 198.8 1476.0 198.7 1478.0 198.6 1480.0 198.6 1482.0 198.5 1484.0 198.4 1486.0 198.4 1488.0 198.3 1490.0 198.3 1492.0 198.2 1494.0 198.1 1496.0 198.1 1498.0 198.0 1500.0 197.9 1502.0 197.9 1504.0 197.8" fill="none" stroke="#1a10e6" stroke-width="6.5" stroke-linejoin="round" stroke-linecap="round"/>
<path d="M267.7 602.4L268.9 601.0 270.1 599.8 271.4 598.7 272.8 597.6 274.2 596.8 275.7 596.0 277.4 595.3 279.0 594.8 280.8 594.4 282.5 594.2 284.2 594.1 286.2 594.2 288.2 594.3 290.2 594.4 292.2 594.4 294.2 594.5 296.2 594.6 298.2 594.7 300.2 594.8 302.2 594.9 304.2 594.9 306.2 595.0 308.2 595.1 310.2 595.2 312.2 595.3 314.2 595.4 316.2 595.5 318.3 595.5 320.3 595.6 322.3 595.7 324.3 595.8 326.3 595.9 328.3 596.0 330.3 596.1 332.3 596.1 334.3 596.2 336.3 596.3 338.3 596.4 340.3 596.5 342.3 596.6 344.3 596.6 346.3 596.7 348.3 596.8 350.3 596.9 352.3 597.0 354.3 597.0 356.3 597.1 358.3 597.2 360.3 597.3 362.3 597.4 364.3 597.4 366.3 597.5 368.3 597.6 370.3 597.7 372.3 597.7 374.3 597.8 376.3 597.9 378.3 598.0 380.3 598.0 382.3 598.1 384.3 598.2 386.4 598.2 388.4 598.3 390.4 598.4 392.4 598.4 394.4 598.5 396.4 598.6 398.4 598.6 400.4 598.7 402.4 598.7 404.4 598.8 406.4 598.9 408.4 598.9 410.4 599.0 412.4 599.0 414.4 599.1 416.4 599.1 418.4 599.2 420.4 599.2 422.4 599.3 424.4 599.3 426.4 599.4 428.4 599.4 430.4 599.5 432.4 599.5 434.4 599.6 436.4 599.6 438.4 599.6 440.4 599.7 442.4 599.7 444.4 599.7 446.4 599.8 448.4 599.8 450.4 599.8 452.4 599.9 454.5 599.9 456.5 599.9 458.5 600.0 460.5 600.0 462.5 600.0 464.5 600.0 466.5 600.0 468.5 600.1 470.5 600.1 472.5 600.1 474.5 600.1 476.5 600.1 478.5 600.1 480.5 600.1 482.5 600.2 484.5 600.2 486.5 600.2 488.5 600.2 490.5 600.2 492.5 600.2 494.5 600.2 496.5 600.2 498.5 600.2 500.5 600.2 502.5 600.2 504.5 600.2 506.5 600.1 508.5 600.1 510.5 600.1 512.5 600.1 514.5 600.1 516.5 600.1 518.5 600.1 520.5 600.0 522.6 600.0 524.6 600.0 526.6 600.0 528.6 599.9 530.6 599.9 532.6 599.9 534.6 599.8 536.6 599.8 538.6 599.8 540.6 599.7 542.6 599.7 544.6 599.6 546.6 599.6 548.6 599.6 550.6 599.5 552.6 599.5 554.6 599.4 556.6 599.4 558.6 599.3 560.6 599.2 562.6 599.2 564.6 599.1 566.6 599.0 568.6 599.0 570.6 598.9 572.6 598.8 574.6 598.8 576.6 598.7 578.6 598.6 580.6 598.5 582.6 598.4 584.6 598.3 586.6 598.2 588.6 598.2 590.7 598.1 592.7 597.9 594.7 597.8 596.7 597.7 598.7 597.6 600.7 597.5 602.7 597.4 604.7 597.3 606.7 597.1 608.7 597.0 610.7 596.9 612.7 596.7 614.7 596.6 616.7 596.4 618.7 596.3 620.7 596.1 622.7 596.0 624.7 595.8 626.7 595.6 628.7 595.5 630.7 595.3 632.7 595.1 634.7 594.9 636.7 594.8 638.7 594.6 640.7 594.4 642.7 594.2 644.7 594.0 646.7 593.8 648.7 593.5 650.7 593.3 652.7 593.1 654.7 592.9 656.7 592.7 658.8 592.4 660.8 592.2 662.8 591.9 664.8 591.7 666.8 591.4 668.8 591.2 670.8 590.9 672.8 590.7 674.8 590.4 676.8 590.1 678.8 589.9 680.8 589.6 682.8 589.3 684.8 589.0 686.8 588.7 688.8 588.4 690.8 588.1 692.8 587.8 694.8 587.5 696.8 587.2 698.8 586.8 700.8 586.5 702.8 586.2 704.8 585.8 706.8 585.5 708.8 585.2 710.8 584.8 712.8 584.4 714.8 584.1 716.8 583.7 718.8 583.3 720.8 582.9 722.8 582.6 724.9 582.2 726.9 581.8 728.9 581.4 730.9 580.9 732.9 580.5 734.9 580.1 736.9 579.6 738.9 579.2 740.9 578.7 742.9 578.3 744.9 577.8 746.9 577.3 748.9 576.9 750.9 576.4 752.9 575.9 754.9 575.3 756.9 574.8 758.9 574.3 760.9 573.7 762.9 573.2 764.9 572.6 766.9 572.1 768.9 571.5 770.9 570.9 772.9 570.3 774.9 569.7 776.9 569.0 778.9 568.4 780.9 567.8 782.9 567.1 784.9 566.4 786.9 565.8 788.9 565.1 790.9 564.4 793.0 563.7 795.0 562.9 797.0 562.2 799.0 561.5 801.0 560.7 803.0 559.9 805.0 559.2 807.0 558.4 809.0 557.6 811.0 556.8 813.0 555.9 815.0 555.1 817.0 554.3 819.0 553.4 821.0 552.5 823.0 551.7 825.0 550.8 827.0 549.9 829.0 549.0 831.0 548.1 833.0 547.1 835.0 546.2 837.0 545.2 839.0 544.3 841.0 543.3 843.0 542.3 845.0 541.3 847.0 540.3 849.0 539.3 851.0 538.3 853.0 537.3 855.0 536.2 857.0 535.2 859.0 534.1 861.1 533.0 863.1 531.9 865.1 530.9 867.1 529.7 869.1 528.6 871.1 527.5 873.1 526.4 875.1 525.2 877.1 524.1 879.1 522.9 881.1 521.8 883.1 520.6 885.1 519.4 887.1 518.2 889.1 517.0 891.1 515.8 893.1 514.6 895.1 513.3 897.1 512.1 899.1 510.9 901.1 509.6 903.1 508.3 905.1 507.1 907.1 505.8 909.1 504.5 911.1 503.2 913.1 501.9 915.1 500.6 917.1 499.3 919.1 498.0 921.1 496.7 923.1 495.3 925.1 494.0 927.1 492.7 929.2 491.3 931.2 490.0 933.2 488.6 935.2 487.2 937.2 485.9 939.2 484.5 941.2 483.1 943.2 481.7 945.2 480.3 947.2 478.9 949.2 477.5 951.2 476.1 953.2 474.7 955.2 473.3 957.2 471.9 959.2 470.5 961.2 469.0 963.2 467.6 965.2 466.1 967.2 464.7 969.2 463.3 971.2 461.8 973.2 460.3 975.2 458.9 977.2 457.4 979.2 456.0 981.2 454.5 983.2 453.0 985.2 451.5 987.2 450.1 989.2 448.6 991.2 447.1 993.2 445.6 995.2 444.1 997.3 442.6 999.3 441.1 1001.3 439.6 1003.3 438.1 1005.3 436.6 1007.3 435.1 1009.3 433.5 1011.3 432.0 1013.3 430.5 1015.3 429.0 1017.3 427.4 1019.3 425.9 1021.3 424.4 1023.3 422.8 1025.3 421.3 1027.3 419.7 1029.3 418.2 1031.3 416.6 1033.3 415.0 1035.3 413.5 1037.3 411.9 1039.3 410.4 1041.3 408.8 1043.3 407.2 1045.3 405.7 1047.3 404.1 1049.3 402.6 1051.3 401.1 1053.3 399.6 1055.3 398.0 1057.3 396.5 1059.3 395.0 1061.3 393.6 1063.3 392.1 1065.4 390.6 1067.4 389.1 1069.4 387.6 1071.4 386.1 1073.4 384.6 1075.4 383.0 1077.4 381.5 1079.4 379.9 1081.4 378.3 1083.4 376.6 1085.4 374.9 1087.4 373.2 1089.4 371.5 1091.4 369.7 1093.4 367.9 1095.4 366.1 1097.4 364.3 1099.4 362.5 1101.4 360.7 1103.4 358.9 1105.4 357.1 1107.4 355.3 1109.4 353.5 1111.4 351.7 1113.4 349.9 1115.4 348.2 1117.4 346.4 1119.4 344.6 1121.4 342.9 1123.4 341.1 1125.4 339.3 1127.4 337.5 1129.4 335.7 1131.5 333.9 1133.5 332.0 1135.5 330.2 1137.5 328.3 1139.5 326.4 1141.5 324.5 1143.5 322.6 1145.5 320.7 1147.5 318.8 1149.5 316.8 1151.5 314.9 1153.5 312.9 1155.5 310.9 1157.5 308.9 1159.5 306.8 1161.5 304.8 1163.5 302.7 1165.5 300.7 1167.5 298.5 1169.5 296.4 1171.5 294.3 1173.5 292.1 1175.5 289.9 1177.5 287.8 1179.5 285.6 1181.5 283.4 1183.5 281.2 1185.5 279.1 1187.5 277.0 1189.5 274.9 1191.5 272.8 1193.5 270.8 1195.5 268.8 1197.5 266.9 1199.6 265.0 1201.6 263.2 1203.6 261.4 1205.6 259.7 1207.6 258.1 1209.6 256.5 1211.6 254.9 1213.6 253.4 1215.6 252.0 1217.6 250.6 1219.6 249.2 1221.6 247.9 1223.6 246.7 1225.6 245.4 1227.6 244.2 1229.6 243.1 1231.6 241.9 1233.6 240.8 1235.6 239.7 1237.6 238.7 1239.6 237.6 1241.6 236.6 1243.6 235.6 1245.6 234.6 1247.6 233.6 1249.6 232.6 1251.6 231.7 1253.6 230.7 1255.6 229.8 1257.6 228.9 1259.6 228.0 1261.6 227.1 1263.6 226.3 1265.6 225.4 1267.7 224.6 1269.7 223.8 1271.7 223.1 1273.7 222.3 1275.7 221.6 1277.7 220.8 1279.7 220.1 1281.7 219.5 1283.7 218.8 1285.7 218.2 1287.7 217.6 1289.7 216.9 1291.7 216.4 1293.7 215.8 1295.7 215.2 1297.7 214.6 1299.7 214.1 1301.7 213.6 1303.7 213.0 1305.7 212.5 1307.7 212.0 1309.7 211.5 1311.7 211.0 1313.7 210.6 1315.7 210.1 1317.7 209.7 1319.7 209.3 1321.7 209.0 1323.7 208.6 1325.7 208.3 1327.7 207.9 1329.7 207.6 1331.7 207.3 1333.7 207.0 1335.8 206.7 1337.8 206.5 1339.8 206.2 1341.8 205.9 1343.8 205.7 1345.8 205.4 1347.8 205.2 1349.8 205.0 1351.8 204.8 1353.8 204.5 1355.8 204.3 1357.8 204.1 1359.8 203.9 1361.8 203.8 1363.8 203.6 1365.8 203.4 1367.8 203.2 1369.8 203.1 1371.8 202.9 1373.8 202.8 1375.8 202.6 1377.8 202.5 1379.8 202.4 1381.8 202.3 1383.8 202.1 1385.8 202.0 1387.8 201.9 1389.8 201.8 1391.8 201.7 1393.8 201.6 1395.8 201.5 1397.8 201.4 1399.8 201.4 1401.8 201.3 1403.9 201.2 1405.9 201.1 1407.9 201.0 1409.9 200.9 1411.9 200.9 1413.9 200.8 1415.9 200.7 1417.9 200.6 1419.9 200.6 1421.9 200.5 1423.9 200.4 1425.9 200.3 1427.9 200.3 1429.9 200.2 1431.9 200.1 1433.9 200.1 1435.9 200.0 1437.9 199.9 1439.9 199.9 1441.9 199.8 1443.9 199.7 1445.9 199.7 1447.9 199.6 1449.9 199.5 1451.9 199.5 1453.9 199.4 1455.9 199.3 1457.9 199.3 1459.9 199.2 1461.9 199.2 1463.9 199.1 1465.9 199.0 1467.9 199.0 1469.9 198.9 1472.0 198.8 1474.0 198.8 1476.0 198.7 1478.0 198.6 1480.0 198.6 1482.0 198.5 1484.0 198.4 1486.0 198.4 1488.0 198.3 1490.0 198.3 1492.0 198.2 1494.0 198.1 1496.0 198.1 1498.0 198.0 1500.0 197.9 1502.0 197.9 1504.0 197.8" fill="none" stroke="#28ece0" stroke-width="6.5" stroke-linejoin="round" stroke-linecap="round"/>
<path d="M254.7,1032.0 V1013.0 M367.1,1032.0 V1020.5 M479.5,1032.0 V1013.0 M591.9,1032.0 V1020.5 M704.3,1032.0 V1013.0 M816.7,1032.0 V1020.5 M929.1,1032.0 V1013.0 M1041.5,1032.0 V1020.5 M1153.9,1032.0 V1013.0 M1266.3,1032.0 V1020.5 M1378.7,1032.0 V1013.0 M1491.1,1032.0 V1020.5 M1603.5,1032.0 V1013.0 M199.0,958.9 H221.0 M199.0,884.2 H210.0 M199.0,809.6 H221.0 M199.0,735.0 H210.0 M199.0,660.3 H221.0 M199.0,585.6 H210.0 M199.0,511.0 H221.0 M199.0,436.4 H210.0 M199.0,361.7 H221.0 M199.0,287.1 H210.0 M199.0,212.4 H221.0 M199.0,137.8 H210.0 M199.0,63.1 H221.0" stroke="#000" stroke-width="7" fill="none" stroke-linecap="round"/>
<rect x="199" y="63.8" width="1404.5" height="969.6" fill="none" stroke="#000" stroke-width="9" stroke-linejoin="round"/>
<text x="255.3" y="1103" font-size="62" letter-spacing="1.2" text-anchor="middle" font-family="Liberation Serif, Times New Roman, serif" font-weight="bold">0.0</text>
<text x="480.1" y="1103" font-size="62" letter-spacing="1.2" text-anchor="middle" font-family="Liberation Serif, Times New Roman, serif" font-weight="bold">0.2</text>
<text x="704.9" y="1103" font-size="62" letter-spacing="1.2" text-anchor="middle" font-family="Liberation Serif, Times New Roman, serif" font-weight="bold">0.4</text>
<text x="929.7" y="1103" font-size="62" letter-spacing="1.2" text-anchor="middle" font-family="Liberation Serif, Times New Roman, serif" font-weight="bold">0.6</text>
<text x="1154.5" y="1103" font-size="62" letter-spacing="1.2" text-anchor="middle" font-family="Liberation Serif, Times New Roman, serif" font-weight="bold">0.8</text>
<text x="1379.3" y="1103" font-size="62" letter-spacing="1.2" text-anchor="middle" font-family="Liberation Serif, Times New Roman, serif" font-weight="bold">1.0</text>
<text x="1604.1" y="1103" font-size="62" letter-spacing="1.2" text-anchor="middle" font-family="Liberation Serif, Times New Roman, serif" font-weight="bold">1.2</text>
<text x="175.5" y="81.4" font-size="62" letter-spacing="1.2" text-anchor="end" font-family="Liberation Serif, Times New Roman, serif" font-weight="bold">1</text>
<text x="175.5" y="230.7" font-size="62" letter-spacing="1.2" text-anchor="end" font-family="Liberation Serif, Times New Roman, serif" font-weight="bold">0</text>
<text x="175.5" y="380.0" font-size="62" letter-spacing="1.2" text-anchor="end" font-family="Liberation Serif, Times New Roman, serif" font-weight="bold">-1</text>
<text x="175.5" y="529.3" font-size="62" letter-spacing="1.2" text-anchor="end" font-family="Liberation Serif, Times New Roman, serif" font-weight="bold">-2</text>
<text x="175.5" y="678.6" font-size="62" letter-spacing="1.2" text-anchor="end" font-family="Liberation Serif, Times New Roman, serif" font-weight="bold">-3</text>
<text x="175.5" y="827.9" font-size="62" letter-spacing="1.2" text-anchor="end" font-family="Liberation Serif, Times New Roman, serif" font-weight="bold">-4</text>
<text x="175.5" y="977.2" font-size="62" letter-spacing="1.2" text-anchor="end" font-family="Liberation Serif, Times New Roman, serif" font-weight="bold">-5</text>
<text x="242.8" y="185" font-size="106" font-family="Liberation Serif, Times New Roman, serif">c</text>
<text x="1200" y="542" font-size="51" textLength="268" font-family="Liberation Serif, Times New Roman, serif" font-weight="bold">Pt/C (20%)</text>
<text x="1085" y="616" font-size="51" textLength="466" font-family="Liberation Serif, Times New Roman, serif" font-weight="bold">Rotation rate (rpm)</text>
<text x="1322.5" y="691.5" font-size="54" letter-spacing="1" font-family="Liberation Serif, Times New Roman, serif" font-weight="bold">400</text>
<text x="1322.5" y="757.5" font-size="54" letter-spacing="1" font-family="Liberation Serif, Times New Roman, serif" font-weight="bold">625</text>
<text x="1322.5" y="822.0" font-size="54" letter-spacing="1" font-family="Liberation Serif, Times New Roman, serif" font-weight="bold">900</text>
<text x="1324.5" y="886.5" font-size="54" letter-spacing="1" font-family="Liberation Serif, Times New Roman, serif" font-weight="bold">1225</text>
<text x="1324.5" y="951.0" font-size="54" letter-spacing="1" font-family="Liberation Serif, Times New Roman, serif" font-weight="bold">1600</text>
<path d="M1251.8,657 L1253.6,935" stroke="#000" stroke-width="5.5" stroke-linecap="round"/>
<path d="M1242,929 L1265.5,929 L1254.5,963 Z" fill="#000"/>
<text x="610" y="1186" font-size="61" textLength="582" font-family="Liberation Serif, Times New Roman, serif" font-weight="bold">Potential (V vs.RHE)</text>
<text transform="translate(118.5,823.1) rotate(-90)" font-size="64" textLength="216.2" lengthAdjust="spacingAndGlyphs" font-family="Liberation Serif, Times New Roman, serif" font-weight="bold">Current</text>
<text transform="translate(118.0,560.8) rotate(-90)" font-size="64" textLength="186.3" lengthAdjust="spacingAndGlyphs" font-family="Liberation Serif, Times New Roman, serif" font-weight="bold">mA/cm</text>
<text transform="translate(85.5,369.2) rotate(-90)" font-size="64" textLength="27.4" lengthAdjust="spacingAndGlyphs" font-family="Liberation Serif, Times New Roman, serif" font-weight="bold">2</text>
<text transform="translate(117.2,617.4) rotate(-90)" font-size="55" font-family="Liberation Serif, Noto Sans CJK SC, sans-serif" font-weight="400">（</text>
<text transform="translate(117.2,339.6) rotate(-90)" font-size="55" font-family="Liberation Serif, Noto Sans CJK SC, sans-serif" font-weight="400">）</text></svg>
</body></html>
